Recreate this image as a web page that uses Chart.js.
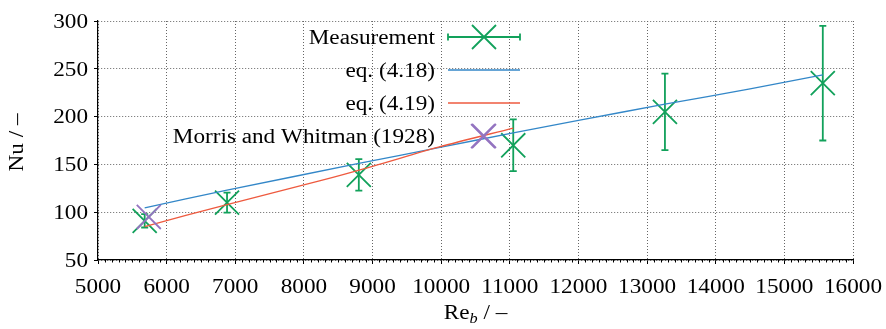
<!DOCTYPE html>
<html>
<head>
<meta charset="utf-8">
<script src="https://cdn.jsdelivr.net/npm/chart.js@4.4.1/dist/chart.umd.min.js"></script>
<style>
  html, body { margin: 0; padding: 0; background: #fff; }
</style>
</head>
<body>
<canvas id="nuChart" width="886" height="329"></canvas>
<script>
// Data
const reMeasurement = [5680, 6880, 8800, 11050, 13260, 15560];
const nuMeasurement = [91, 110, 139, 170, 205, 235];
const nuMeasurementErr = [7, 10.5, 16.5, 27, 40, 60];

const reEq418 = [5680, 6880, 8800, 10000, 11050, 12000, 13260, 14500, 15560];
const nuEq418 = [104.6, 123, 151, 168, 183, 196, 213, 229, 243.6];

const reEq419 = [5680, 6880, 8240, 9000, 9960, 11050];
const nuEq419 = [85, 108, 133, 148, 168, 188];

const reMorris = [5740, 10610];
const nuMorris = [95, 179.5];

const xTickValues = [5000, 6000, 7000, 8000, 9000, 10000, 11000, 12000, 13000, 14000, 15000, 16000];
const yTickValues = [50, 100, 150, 200, 250, 300];

const seriesLabels = ["Measurement", "eq. (4.18)", "eq. (4.19)", "Morris and Whitman (1928)"];

const GREEN = "#12a15b";
const BLUE = "#3387c8";
const RED = "#ee5a3f";
const PURPLE = "#9474c0";

const SERIF = '"Liberation Serif", "Times New Roman", serif';
const FONT_SIZE = 20;
const STRETCH = 1.16; // reference text is horizontally widened

function toPoints(xs, ys) {
  return xs.map((x, i) => ({ x: x, y: ys[i] }));
}

// draw a text string widened horizontally, anchored at its baseline
function drawText(ctx, text, x, y, align, font) {
  ctx.save();
  ctx.font = font || FONT_SIZE + "px " + SERIF;
  ctx.textBaseline = "alphabetic";
  ctx.textAlign = "left";
  const w = ctx.measureText(text).width * STRETCH;
  let left = x;
  if (align === "right") left = x - w;
  else if (align === "center") left = x - w / 2;
  ctx.translate(left, y);
  ctx.scale(STRETCH, 1);
  ctx.fillStyle = "#000";
  ctx.fillText(text, 0, 0);
  ctx.restore();
  return w;
}

// Tick labels, minor ticks and axis titles
const axisTextPlugin = {
  id: "axisText",
  afterDraw(chart) {
    const ctx = chart.ctx;
    const area = chart.chartArea;
    const xs = chart.scales.x;
    const ys = chart.scales.y;
    const capHalf = FONT_SIZE * 0.335;

    yTickValues.forEach((v) => {
      drawText(ctx, String(v), area.left - 10, ys.getPixelForValue(v) + capHalf, "right");
    });
    xTickValues.forEach((v) => {
      drawText(ctx, String(v), xs.getPixelForValue(v), area.bottom + 32.5, "center");
    });

    // minor ticks on the x axis
    ctx.save();
    ctx.strokeStyle = "#000";
    ctx.lineWidth = 1;
    for (let v = xs.min + 100; v < xs.max; v += 100) {
      if (v % 1000 === 0) continue;
      const px = Math.round(xs.getPixelForValue(v)) + 0.5;
      ctx.beginPath();
      ctx.moveTo(px, area.bottom);
      ctx.lineTo(px, area.bottom + 2.5);
      ctx.stroke();
    }
    ctx.restore();

    // y title, rotated
    ctx.save();
    ctx.translate(area.left - 75, (area.top + area.bottom) / 2 + 2);
    ctx.rotate(-Math.PI / 2);
    drawText(ctx, "Nu / –", 0, 0, "center");
    ctx.restore();

    // x title with italic subscript b
    ctx.save();
    const cx = (area.left + area.right) / 2;
    const base = area.bottom + 59;
    ctx.font = FONT_SIZE + "px " + SERIF;
    const w1 = ctx.measureText("Re").width * STRETCH;
    ctx.font = "italic 14px " + SERIF;
    const w2 = ctx.measureText("b").width * STRETCH;
    ctx.font = FONT_SIZE + "px " + SERIF;
    const w3 = ctx.measureText(" / –").width * STRETCH;
    let left = cx - (w1 + w2 + w3) / 2;
    drawText(ctx, "Re", left, base, "left");
    drawText(ctx, "b", left + w1, base + 4, "left", "italic 14px " + SERIF);
    drawText(ctx, " / –", left + w1 + w2, base, "left");
    ctx.restore();
  },
};

// Vertical error bars for the measurement series
const errorBarPlugin = {
  id: "errorBars",
  beforeDatasetsDraw(chart) {
    const ctx = chart.ctx;
    const xs = chart.scales.x;
    const ys = chart.scales.y;
    ctx.save();
    ctx.strokeStyle = GREEN;
    ctx.lineWidth = 1.8;
    reMeasurement.forEach((re, i) => {
      const px = xs.getPixelForValue(re);
      const top = ys.getPixelForValue(nuMeasurement[i] + nuMeasurementErr[i]);
      const bot = ys.getPixelForValue(nuMeasurement[i] - nuMeasurementErr[i]);
      ctx.beginPath();
      ctx.moveTo(px, top);
      ctx.lineTo(px, bot);
      ctx.moveTo(px - 3.5, top);
      ctx.lineTo(px + 3.5, top);
      ctx.moveTo(px - 3.5, bot);
      ctx.lineTo(px + 3.5, bot);
      ctx.stroke();
    });
    ctx.restore();
  },
};

// gnuplot style key: text on the left, sample on the right
const keyPlugin = {
  id: "key",
  afterDraw(chart) {
    const ctx = chart.ctx;
    const area = chart.chartArea;
    const sampleLeft = area.left + 350;
    const sampleRight = area.left + 422;
    const mid = (sampleLeft + sampleRight) / 2;
    chart.data.datasets.forEach((ds, i) => {
      const y = area.top + 16 + i * 33;
      drawText(ctx, ds.label, sampleLeft - 13, y + 6.8, "right");
      ctx.save();
      ctx.strokeStyle = ds.borderColor;
      if (i === 0) {
        ctx.lineWidth = 1.8;
        ctx.beginPath();
        ctx.moveTo(sampleLeft, y);
        ctx.lineTo(sampleRight, y);
        ctx.moveTo(sampleLeft, y - 3.5);
        ctx.lineTo(sampleLeft, y + 3.5);
        ctx.moveTo(sampleRight, y - 3.5);
        ctx.lineTo(sampleRight, y + 3.5);
        ctx.stroke();
      }
      if (ds.showLine) {
        ctx.lineWidth = ds.borderWidth;
        ctx.beginPath();
        ctx.moveTo(sampleLeft, y);
        ctx.lineTo(sampleRight, y);
        ctx.stroke();
      } else {
        const r = 12;
        ctx.lineWidth = 1.8;
        ctx.beginPath();
        ctx.moveTo(mid - r, y - r);
        ctx.lineTo(mid + r, y + r);
        ctx.moveTo(mid - r, y + r);
        ctx.lineTo(mid + r, y - r);
        ctx.stroke();
      }
      ctx.restore();
    });
  },
};

const gridLines = {
  color: "#666",
  lineWidth: 1,
  drawTicks: true,
  tickLength: 4,
  tickColor: "#000",
  tickWidth: 1,
};

new Chart(document.getElementById("nuChart"), {
  type: "scatter",
  data: {
    datasets: [
      {
        label: seriesLabels[0],
        data: toPoints(reMeasurement, nuMeasurement),
        showLine: false,
        pointStyle: "crossRot",
        pointRadius: 17,
        pointBorderWidth: 1.8,
        borderColor: GREEN,
        backgroundColor: GREEN,
        order: 4,
      },
      {
        label: seriesLabels[1],
        data: toPoints(reEq418, nuEq418),
        showLine: true,
        pointRadius: 0,
        borderWidth: 1.3,
        borderColor: BLUE,
        backgroundColor: BLUE,
        tension: 0.3,
        order: 3,
      },
      {
        label: seriesLabels[2],
        data: toPoints(reEq419, nuEq419),
        showLine: true,
        pointRadius: 0,
        borderWidth: 1.3,
        borderColor: RED,
        backgroundColor: RED,
        tension: 0.3,
        order: 2,
      },
      {
        label: seriesLabels[3],
        data: toPoints(reMorris, nuMorris),
        showLine: false,
        pointStyle: "crossRot",
        pointRadius: 17,
        pointBorderWidth: 1.8,
        borderColor: PURPLE,
        backgroundColor: PURPLE,
        order: 1,
      },
    ],
  },
  options: {
    responsive: false,
    animation: false,
    devicePixelRatio: 1,
    layout: { padding: { left: 0, top: 21, right: 33, bottom: 0 } },
    plugins: {
      legend: { display: false },
      tooltip: { enabled: false },
    },
    scales: {
      x: {
        type: "linear",
        min: 5000,
        max: 16000,
        ticks: { stepSize: 1000, display: false },
        grid: gridLines,
        border: { display: true, color: "#000", width: 1.2, dash: [1, 2] },
        afterFit(scale) {
          scale.height = 69;
        },
      },
      y: {
        type: "linear",
        min: 50,
        max: 300,
        ticks: { stepSize: 50, display: false },
        grid: gridLines,
        border: { display: true, color: "#000", width: 1.2, dash: [1, 2] },
        afterFit(scale) {
          scale.width = 98;
        },
      },
    },
  },
  plugins: [errorBarPlugin, axisTextPlugin, keyPlugin],
});
</script>
</body>
</html>
